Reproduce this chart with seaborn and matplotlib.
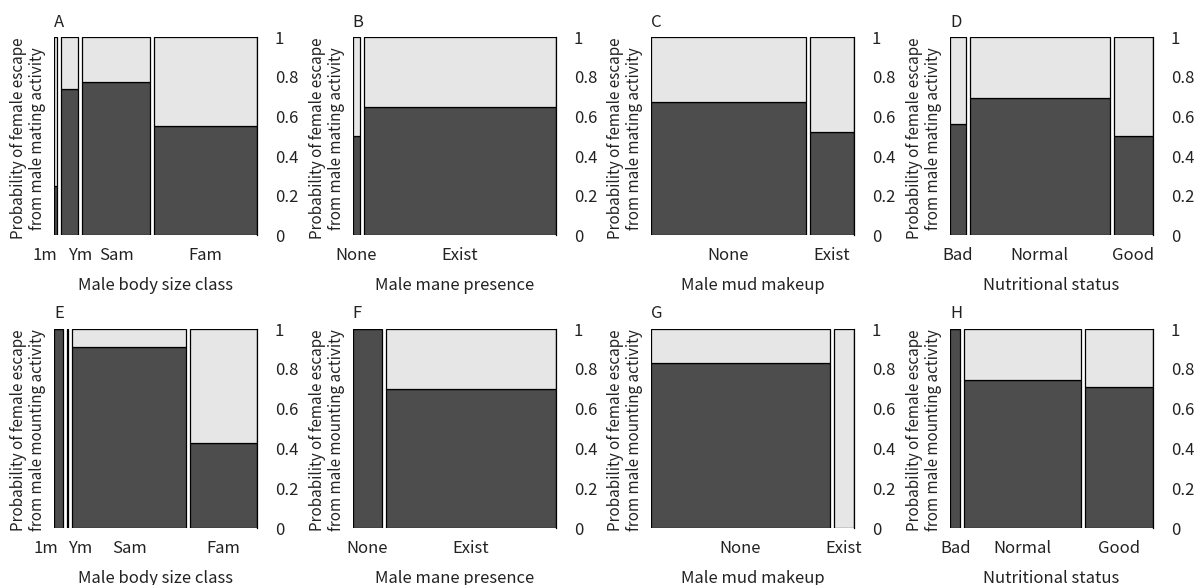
import numpy as np
import matplotlib.pyplot as plt
import seaborn as sns

sns.set_theme(style='white')
plt.rcParams['font.family'] = ['Noto Sans CJK JP', 'DejaVu Sans']

# category labels
size_cls = ['1m', 'Ym', 'Sam', 'Fam']
mane = ['None', 'Exist']
mud = ['None', 'Exist']
nutri = ['Bad', 'Normal', 'Good']

# number of observations per category (bar widths)
n_mating_size = [4, 25, 96, 145]
n_mating_mane = [10, 260]
n_mating_mud = [210, 60]
n_mating_nutri = [22, 194, 54]
n_mount_size = [10, 1, 124, 72]
n_mount_mane = [30, 177]
n_mount_mud = [186, 21]
n_mount_nutri = [11, 124, 72]

# probability of escape (dark part)
p_mating_size = [0.25, 0.74, 0.774, 0.552]
p_mating_mane = [0.50, 0.646]
p_mating_mud = [0.675, 0.523]
p_mating_nutri = [0.562, 0.692, 0.50]
p_mount_size = [1.0, 1.0, 0.909, 0.426]
p_mount_mane = [1.0, 0.70]
p_mount_mud = [0.832, 0.0]
p_mount_nutri = [1.0, 0.745, 0.708]

DARK = '#4d4d4d'
LIGHT = '#e6e6e6'
TXT = '#222222'
OFF = 0.02


def spineplot(ax, labels, counts, probs, letter, xlabel, ylabel):
    w = np.array(counts, dtype=float)
    w = w / w.sum()
    p = np.array(probs)
    left = np.concatenate([[0], np.cumsum(w + OFF)[:-1]])
    xmax = 1 + OFF * (len(w) - 1)

    ax.bar(left, p, width=w, align='edge', color=DARK, edgecolor='black', linewidth=0.9)
    ax.bar(left, 1 - p, bottom=p, width=w, align='edge', color=LIGHT, edgecolor='black', linewidth=0.9)

    # label positions: bar centres, pushed apart when too close
    pos = left + w / 2
    min_sep = 0.172 * xmax
    for _ in range(10):
        for i in range(len(pos) - 1):
            d = pos[i + 1] - pos[i]
            if d < min_sep:
                pos[i] -= (min_sep - d) / 2
                pos[i + 1] += (min_sep - d) / 2

    ax.set_xticks([])
    ax.set_xlim(0, xmax)
    ax.set_ylim(0, 1)
    trans = ax.get_xaxis_transform()
    for x, lab in zip(pos, labels):
        ax.text(x, -0.128, lab, transform=trans, ha='center', va='baseline',
                fontsize=12, color=TXT, clip_on=False)

    ax.yaxis.tick_right()
    ax.set_yticks([0, 0.2, 0.4, 0.6, 0.8, 1], ['0', '0.2', '0.4', '0.6', '0.8', '1'])
    ax.tick_params(axis='y', length=6, width=0.9, pad=7, labelsize=12, colors='black',
                   labelcolor=TXT, direction='out', right=True, left=False)
    sns.despine(ax=ax, left=True, bottom=True, top=True, right=False)
    ax.spines['right'].set_color('black')
    ax.spines['right'].set_linewidth(0.9)
    ax.text(0.5, -0.278, xlabel, transform=ax.transAxes, ha='center', va='baseline',
            fontsize=12, color=TXT)
    ax.text(0.0, 1.055, letter, transform=ax.transAxes, ha='left', va='baseline',
            fontsize=12, color=TXT)
    ax.text(-0.128, 0.49, ylabel, transform=ax.transAxes, rotation=90, ha='center',
            va='center', fontsize=11, linespacing=1.15, color=TXT)


fig = plt.figure(figsize=(12, 5.85), dpi=100)
lefts = [0.045, 0.294, 0.5425, 0.7917]
w_ax = 0.169

ylab_mating = 'Probability of female escape\nfrom male mating activity'
ylab_mount = 'Probability of female escape\nfrom male mounting activity'

top = [
    (size_cls, n_mating_size, p_mating_size, 'A', 'Male body size class'),
    (mane, n_mating_mane, p_mating_mane, 'B', 'Male mane presence'),
    (mud, n_mating_mud, p_mating_mud, 'C', 'Male mud makeup'),
    (nutri, n_mating_nutri, p_mating_nutri, 'D', 'Nutritional status'),
]
bottom = [
    (size_cls, n_mount_size, p_mount_size, 'E', 'Male body size class'),
    (mane, n_mount_mane, p_mount_mane, 'F', 'Male mane presence'),
    (mud, n_mount_mud, p_mount_mud, 'G', 'Male mud makeup'),
    (nutri, n_mount_nutri, p_mount_nutri, 'H', 'Nutritional status'),
]

for i, (labs, n, p, letter, xl) in enumerate(top):
    ax = fig.add_axes([lefts[i], 0.598, w_ax, 0.338])
    spineplot(ax, labs, n, p, letter, xl, ylab_mating)

for i, (labs, n, p, letter, xl) in enumerate(bottom):
    ax = fig.add_axes([lefts[i], 0.0974, w_ax, 0.34])
    spineplot(ax, labs, n, p, letter, xl, ylab_mount)

fig.savefig('out.png', dpi=100, facecolor='white')
